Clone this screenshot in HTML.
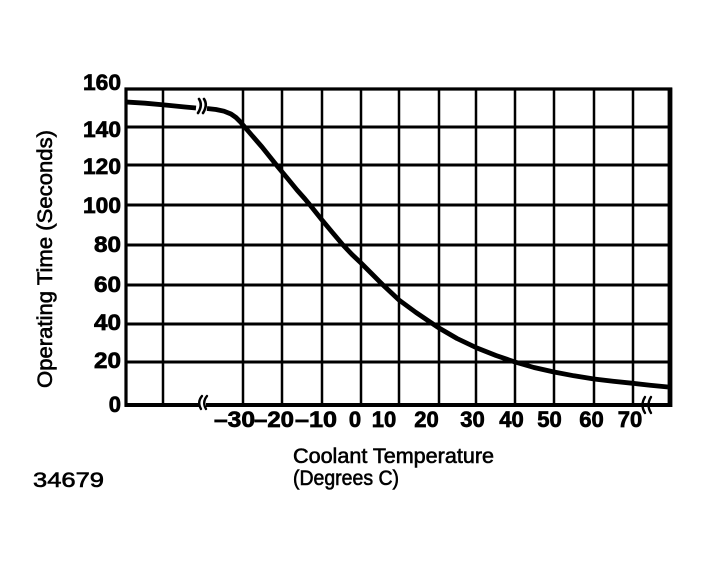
<!DOCTYPE html>
<html>
<head>
<meta charset="utf-8">
<style>
  html, body { margin:0; padding:0; background:#fff; }
  body { width:710px; height:567px; overflow:hidden; }
  svg { display:block; }
  .tk { font-family:"Liberation Sans", Arial, sans-serif; font-weight:bold; font-size:22px; fill:#000; stroke:#000; stroke-width:0.7px; }
  .tl { font-family:"Liberation Sans", Arial, sans-serif; font-weight:normal; font-size:21px; fill:#000; stroke:#000; stroke-width:0.6px; }
</style>
</head>
<body>
<svg width="710" height="567" viewBox="0 0 710 567" xmlns="http://www.w3.org/2000/svg">
  <rect x="0" y="0" width="710" height="567" fill="#fff"/>

  <!-- vertical grid lines -->
  <g stroke="#000" stroke-width="2.5">
    <line x1="163" y1="89" x2="163" y2="405"/>
    <line x1="243" y1="89" x2="243" y2="405"/>
    <line x1="282" y1="89" x2="282" y2="405"/>
    <line x1="322" y1="89" x2="322" y2="405"/>
    <line x1="361" y1="89" x2="361" y2="405"/>
    <line x1="399" y1="89" x2="399" y2="405"/>
    <line x1="439" y1="89" x2="439" y2="405"/>
    <line x1="476" y1="89" x2="476" y2="405"/>
    <line x1="515" y1="89" x2="515" y2="405"/>
    <line x1="554" y1="89" x2="554" y2="405"/>
    <line x1="594" y1="89" x2="594" y2="405"/>
    <line x1="633" y1="89" x2="633" y2="405"/>
  </g>

  <!-- horizontal grid lines -->
  <g stroke="#000" stroke-width="3">
    <line x1="125" y1="127" x2="670" y2="127"/>
    <line x1="125" y1="165" x2="670" y2="165"/>
    <line x1="125" y1="205" x2="670" y2="205"/>
    <line x1="125" y1="245" x2="670" y2="245"/>
    <line x1="125" y1="285" x2="670" y2="285"/>
    <line x1="125" y1="324" x2="670" y2="324"/>
    <line x1="125" y1="362" x2="670" y2="362"/>
  </g>

  <!-- borders -->
  <line x1="124.5" y1="89" x2="672" y2="89" stroke="#000" stroke-width="3.2"/>
  <line x1="126" y1="87.5" x2="126" y2="406.5" stroke="#000" stroke-width="3.2"/>
  <line x1="670" y1="87.5" x2="670" y2="407" stroke="#000" stroke-width="4.8"/>
  <line x1="124.5" y1="405" x2="672" y2="405" stroke="#000" stroke-width="4"/>

  <!-- bottom axis break marks -->
  <rect x="199" y="400" width="7" height="10" fill="#fff"/>
  <g fill="none" stroke="#000" stroke-width="2.4" stroke-linecap="round">
    <path d="M202,396 Q197,402 201,409"/>
    <path d="M207,396 Q202,402 206,409"/>
    <path d="M645,397 Q640,405 645,413"/>
    <path d="M651,397 Q646,405 651,413"/>
  </g>

  <!-- curve -->
  <g fill="none" stroke="#000" stroke-width="4.8" stroke-linejoin="round" stroke-linecap="butt">
    <polyline points="126,102 145,103.2 165,105 185,107 196,108"/>
    <polyline points="207,108.5 216,109.5 224,111.2 231,114 236,117.5 240,121.5 243,125 252,135.5 262,147 270,157 278,167 288,179 297,190 305,199 310,205 316,212.5 322,220 332,232 343,245 352,254.5 361,263 372,274 383,285 391,292.5 399,300 416,312.5 433,324 439,328 457,338.5 477,348 496,355.5 515,362 534,367.5 554,372 574,375.8 594,379 613,381.3 633,383.3 650,385.2 668,387"/>
  </g>
  <!-- curve break marks -->
  <g fill="none" stroke="#000" stroke-width="2.6" stroke-linecap="round">
    <path d="M199,99 Q203,105 198,113"/>
    <path d="M204,99 Q208,105 203,113"/>
  </g>

  <!-- y tick labels -->
  <g class="tk" text-anchor="end">
    <text x="121" y="90" textLength="38" lengthAdjust="spacingAndGlyphs">160</text>
    <text x="121" y="137" textLength="38" lengthAdjust="spacingAndGlyphs">140</text>
    <text x="121" y="174" textLength="38" lengthAdjust="spacingAndGlyphs">120</text>
    <text x="121" y="213" textLength="38" lengthAdjust="spacingAndGlyphs">100</text>
    <text x="121" y="252" textLength="27" lengthAdjust="spacingAndGlyphs">80</text>
    <text x="121" y="292" textLength="27" lengthAdjust="spacingAndGlyphs">60</text>
    <text x="121" y="330" textLength="27" lengthAdjust="spacingAndGlyphs">40</text>
    <text x="121" y="368" textLength="27" lengthAdjust="spacingAndGlyphs">20</text>
    <text x="121" y="412">0</text>
  </g>

  <!-- x tick labels -->
  <g class="tk">
    <text x="214" y="427" textLength="41" lengthAdjust="spacingAndGlyphs">–30</text>
    <text x="254" y="427" textLength="40" lengthAdjust="spacingAndGlyphs">–20</text>
    <text x="295" y="427" textLength="42" lengthAdjust="spacingAndGlyphs">–10</text>
  </g>
  <g class="tk" text-anchor="middle">
    <text x="355" y="427">0</text>
    <text x="384" y="427">10</text>
    <text x="426.5" y="427">20</text>
    <text x="472.5" y="427">30</text>
    <text x="511.5" y="427">40</text>
    <text x="549.5" y="427">50</text>
    <text x="591.5" y="427">60</text>
    <text x="630" y="427">70</text>
  </g>

  <!-- axis titles -->
  <text class="tl" transform="translate(52,259) rotate(-90)" text-anchor="middle" font-size="22" textLength="258" lengthAdjust="spacingAndGlyphs">Operating Time (Seconds)</text>
  <text class="tl" x="293" y="463" textLength="201" lengthAdjust="spacingAndGlyphs">Coolant Temperature</text>
  <text class="tl" x="293" y="485" textLength="106" lengthAdjust="spacingAndGlyphs">(Degrees C)</text>
  <text class="tl" x="33" y="487" textLength="71" lengthAdjust="spacingAndGlyphs">34679</text>
</svg>
</body>
</html>
